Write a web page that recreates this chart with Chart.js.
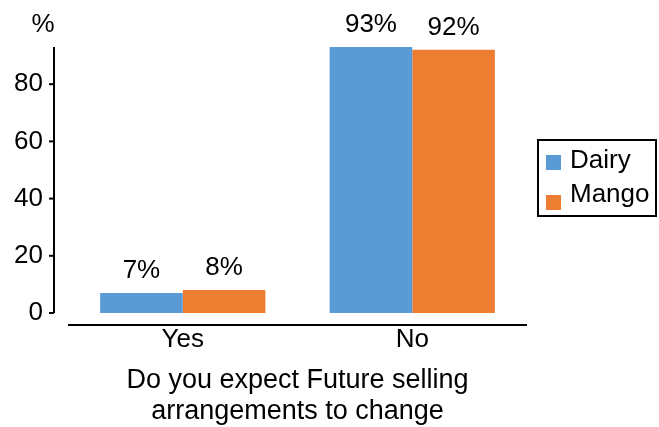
<!DOCTYPE html>
<html>
<head>
<meta charset="utf-8">
<script src="https://cdn.jsdelivr.net/npm/chart.js@4.4.1/dist/chart.umd.min.js"></script>
<style>
  html, body { margin: 0; padding: 0; background: #fff; }
  #wrap { width: 659px; height: 427px; }
</style>
</head>
<body>
<div id="wrap"><canvas id="chart"></canvas></div>
<script>
// Data
const categories = ['Yes', 'No'];
const dairyValues = [7, 93];
const mangoValues = [8, 92];
const yTicks = [0, 20, 40, 60, 80];
const xTitle = ['Do you expect Future selling', 'arrangements to change'];

const FONT = 'Liberation Sans, Arial, sans-serif';

// Axis lines, tick marks, value labels, % unit and boxed legend
const decorations = {
    id: 'decorations',
    afterDraw(chart) {
        const ctx = chart.ctx;
        const area = chart.chartArea;
        const y = chart.scales.y;
        const axisX = area.left - 14;

        ctx.save();
        ctx.strokeStyle = '#000';
        ctx.lineWidth = 2;

        // y axis line
        ctx.beginPath();
        ctx.moveTo(axisX, y.getPixelForValue(y.max));
        ctx.lineTo(axisX, y.getPixelForValue(0));
        ctx.stroke();

        // y tick marks
        yTicks.forEach(v => {
            const py = y.getPixelForValue(v);
            ctx.beginPath();
            ctx.moveTo(axisX - 5, py);
            ctx.lineTo(axisX, py);
            ctx.stroke();
        });

        // x axis line, offset below the bars
        ctx.beginPath();
        ctx.moveTo(area.left, area.bottom + 12);
        ctx.lineTo(area.right, area.bottom + 12);
        ctx.stroke();

        // % unit
        ctx.fillStyle = '#000';
        ctx.font = '26px ' + FONT;
        ctx.textAlign = 'center';
        ctx.textBaseline = 'middle';
        ctx.fillText('%', 43, 25);

        // value labels
        chart.data.datasets.forEach((ds, i) => {
            chart.getDatasetMeta(i).data.forEach((bar, j) => {
                ctx.fillText(ds.data[j] + '%', bar.x, bar.y - 22);
            });
        });

        // legend with frame
        const lx = 538, ly = 140, lw = 118, lh = 76;
        ctx.strokeRect(lx, ly, lw, lh);
        ctx.textAlign = 'left';
        chart.data.datasets.forEach((ds, i) => {
            const cy = ly + 21 + i * 34;
            ctx.fillStyle = ds.backgroundColor;
            ctx.fillRect(lx + 8, cy - 6 + i * 6, 15, 15);
            ctx.fillStyle = '#000';
            ctx.fillText(ds.label, lx + 32, cy);
        });
        ctx.restore();
    }
};

new Chart(document.getElementById('chart'), {
    type: 'bar',
    data: {
        labels: categories,
        datasets: [
            { label: 'Dairy', data: dairyValues, backgroundColor: '#5B9BD5' },
            { label: 'Mango', data: mangoValues, backgroundColor: '#ED7D31' }
        ]
    },
    options: {
        responsive: true,
        maintainAspectRatio: false,
        animation: false,
        layout: { padding: { left: 0, top: 47, right: 132, bottom: 0 } },
        datasets: { bar: { categoryPercentage: 0.72, barPercentage: 1.0 } },
        plugins: {
            legend: { display: false },
            tooltip: { enabled: false }
        },
        scales: {
            x: {
                grid: { display: false, drawTicks: false },
                border: { display: false },
                ticks: { color: '#000', font: { family: FONT, size: 26 }, padding: 11 },
                title: {
                    display: true,
                    text: xTitle,
                    color: '#000',
                    font: { family: FONT, size: 27, lineHeight: 1.15 },
                    padding: { top: 0, bottom: 0 }
                },
                afterFit(scale) { scale.height = 114; }
            },
            y: {
                min: 0,
                max: 93,
                grid: { display: false, drawTicks: false },
                border: { display: false },
                ticks: {
                    stepSize: 20,
                    includeBounds: false,
                    color: '#000',
                    font: { family: FONT, size: 26 },
                    padding: 25,
                    callback: v => (yTicks.includes(v) ? v : '')
                },
                afterFit(scale) { scale.width = 68; }
            }
        }
    },
    plugins: [decorations]
});
</script>
</body>
</html>
